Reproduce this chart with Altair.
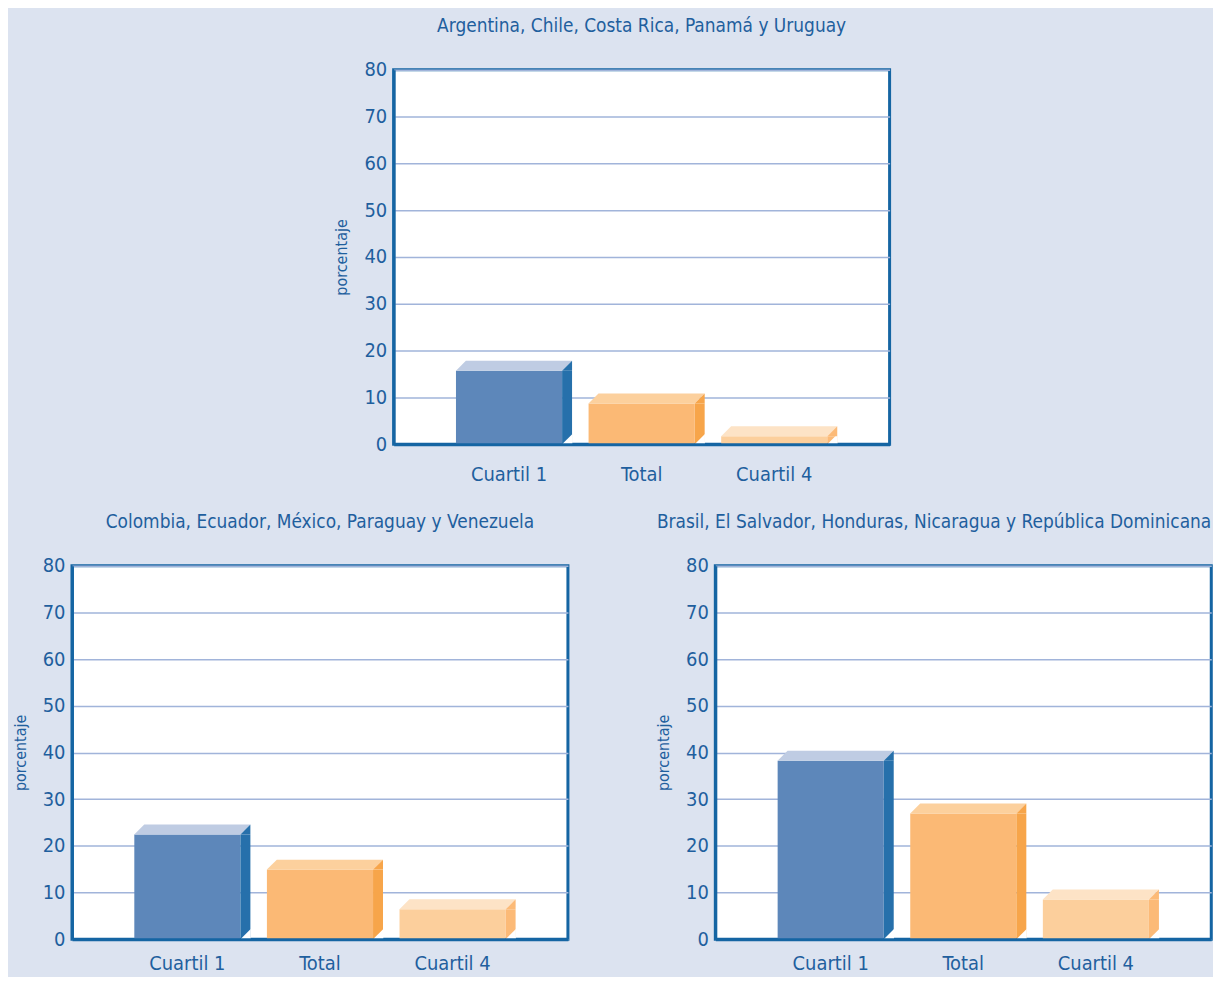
import altair as alt
import pandas as pd

# ---- data ----
categorias = ["Cuartil 1", "Total", "Cuartil 4"]
titulos = [
    "Argentina, Chile, Costa Rica, Panamá y Uruguay",
    "Colombia, Ecuador, México, Paraguay y Venezuela",
    "Brasil, El Salvador, Honduras, Nicaragua y República Dominicana",
]
valores_g1 = [15.7, 8.7, 1.7]
valores_g2 = [22.4, 14.9, 6.4]
valores_g3 = [38.2, 26.9, 8.5]

# ---- styles ----
color_frente = ["#5d87ba", "#fbb975", "#fccf9c"]
color_tapa = ["#bfcce3", "#fcd09d", "#fde3c6"]
color_lado = ["#2670ab", "#f7a54a", "#fcba77"]

BG = "#dce3f0"
BORDER = "#1565a3"
TXT = "#1f5f9e"
GRID = "#a1b4da"
FONT = "DejaVu Sans Condensed, Liberation Sans, sans-serif"

W = 498
HALF = 53.3  # half band width in px (from the scale paddings below)
DEPTH = 10
TOP_PATH = "M -5.33 0 L 5.33 0 L 6.33 -1 L -4.33 -1 Z"
SIDE_TOP_PATH = "M 5.33 0 L 6.33 -1 L 6.33 0 Z"
CUT_PATH = "M 5.33 0 L 6.36 -1.03 L 6.36 0 Z"


def panel(title, values, height, label_pad, anchor="middle"):
    df = pd.DataFrame({
        "cat": categorias,
        "valor": values,
        "frente": color_frente,
        "tapa": color_tapa,
        "lado": color_lado,
    })
    x = alt.X(
        "cat:N", sort=categorias,
        scale=alt.Scale(paddingInner=0.2, paddingOuter=0.47),
        axis=alt.Axis(title=None, labelAngle=0, ticks=False, domain=True,
                      domainColor=BORDER, domainWidth=3, labelFontSize=20,
                      labelColor=TXT, labelFont=FONT, labelPadding=label_pad,
                      zindex=1),
    )
    y = alt.Y(
        "valor:Q",
        scale=alt.Scale(domain=[0, 80], nice=False),
        axis=alt.Axis(values=list(range(0, 81, 10)), title="porcentaje",
                      grid=True, gridColor=GRID, gridWidth=1.5, ticks=False,
                      domain=True, domainColor=BORDER, domainWidth=3,
                      labelFontSize=20, labelColor=TXT, labelFont=FONT,
                      labelPadding=7, titleFontSize=16, titleColor=TXT,
                      titleFont=FONT, titleFontWeight="normal", titlePadding=14),
    )
    base = alt.Chart(df).encode(x=x, y=y)
    front = base.mark_bar(strokeWidth=0).encode(color=alt.Color("frente:N", scale=None))
    side = base.mark_bar(width=DEPTH, xOffset=HALF + DEPTH / 2,
                         strokeWidth=0).encode(color=alt.Color("lado:N", scale=None))
    cut = base.mark_point(shape=CUT_PATH, size=400, filled=True, opacity=1,
                          strokeWidth=0, color="white").encode(y=alt.datum(0))
    top = base.mark_point(shape=TOP_PATH, size=400, filled=True, opacity=1,
                          strokeWidth=0).encode(color=alt.Color("tapa:N", scale=None))
    side_top = base.mark_point(shape=SIDE_TOP_PATH, size=400, filled=True, opacity=1,
                               strokeWidth=0).encode(color=alt.Color("lado:N", scale=None))
    return alt.layer(front, side, cut, top, side_top).properties(
        width=W, height=height,
        title=alt.TitleParams(title, fontSize=19, color=TXT, font=FONT,
                              fontWeight="normal", anchor=anchor, offset=24),
    )


p1 = panel(titulos[0], valores_g1, 376, 20)
p2 = panel(titulos[1], valores_g2, 375, 14)
p3 = panel(titulos[2], valores_g3, 375, 14, anchor="end")

chart = alt.vconcat(
    p1,
    alt.hconcat(p2, p3, spacing=84),
    spacing=25,
    center=True,
).configure(
    background=BG,
    padding={"left": 2, "top": 5, "right": 0, "bottom": 0},
).configure_view(
    stroke=BORDER, strokeWidth=3, fill="white"
)

chart.save("out.html", embed_options={"renderer": "svg", "actions": False})
